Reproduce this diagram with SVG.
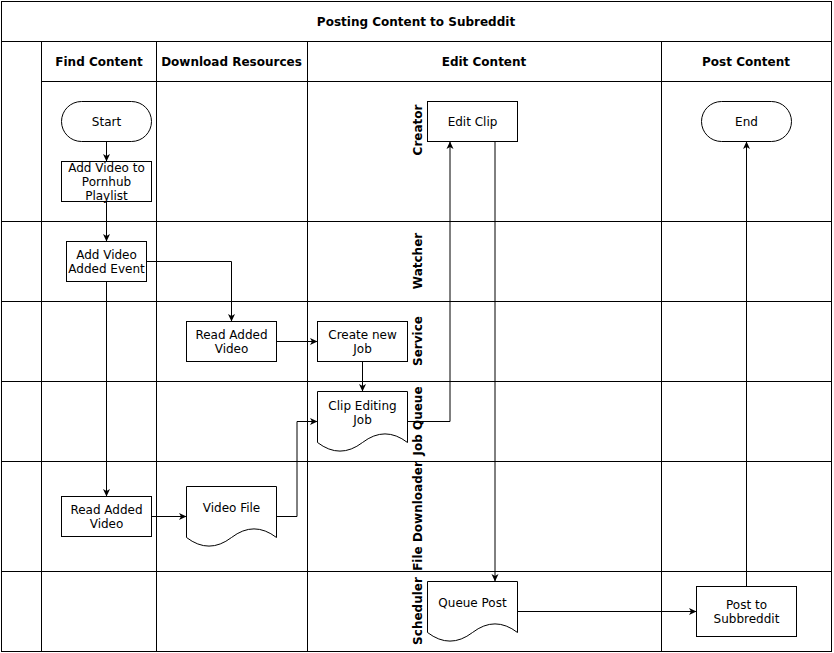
<svg xmlns="http://www.w3.org/2000/svg" width="834" height="653" viewBox="0 0 834 653">
<defs>
<style>
.grid{fill:none;stroke:#000;stroke-width:1}
.node{fill:#fff;stroke:#000;stroke-width:1}
.t{font-family:"DejaVu Sans","Liberation Sans",sans-serif;font-size:12px;fill:#000;text-anchor:middle}
.b{font-weight:bold}
.c{fill:none;stroke:#000;stroke-width:1}
</style>
<marker id="arr" markerUnits="userSpaceOnUse" viewBox="0 0 8 8" markerWidth="8" markerHeight="8" refX="7.5" refY="4" orient="auto">
<path d="M0,0.5 L7.5,4 L0,7.5 L2,4 z" fill="#000"/>
</marker>
</defs>
<rect width="834" height="653" fill="#fff"/>
<g id="pool">
<rect class="grid" x="1.5" y="1.5" width="830" height="650"/>
<line class="grid" x1="1.5" y1="41.5" x2="831.5" y2="41.5"/>
<line class="grid" x1="41.5" y1="81.5" x2="831.5" y2="81.5"/>
<line class="grid" x1="41.5" y1="41.5" x2="41.5" y2="651.5"/>
<line class="grid" x1="156.5" y1="41.5" x2="156.5" y2="651.5"/>
<line class="grid" x1="307.5" y1="41.5" x2="307.5" y2="651.5"/>
<line class="grid" x1="661.5" y1="41.5" x2="661.5" y2="651.5"/>
<line class="grid" x1="1.5" y1="221.5" x2="831.5" y2="221.5"/>
<line class="grid" x1="1.5" y1="301.5" x2="831.5" y2="301.5"/>
<line class="grid" x1="1.5" y1="381.5" x2="831.5" y2="381.5"/>
<line class="grid" x1="1.5" y1="461.5" x2="831.5" y2="461.5"/>
<line class="grid" x1="1.5" y1="571.5" x2="831.5" y2="571.5"/>
<text class="t b" x="416" y="25.5">Posting Content to Subreddit</text>
<text class="t b" x="99" y="65.5">Find Content</text>
<text class="t b" x="231.5" y="65.5">Download Resources</text>
<text class="t b" x="484" y="65.5">Edit Content</text>
<text class="t b" x="746" y="65.5">Post Content</text>
<text class="t b" transform="translate(417,130) rotate(-90)" y="4.5">Creator</text>
<text class="t b" transform="translate(417,261) rotate(-90)" y="4.5">Watcher</text>
<text class="t b" transform="translate(417,341) rotate(-90)" y="4.5">Service</text>
<text class="t b" transform="translate(417,421) rotate(-90)" y="4.5">Job Queue</text>
<text class="t b" transform="translate(417,516) rotate(-90)" y="4.5">File Downloader</text>
<text class="t b" transform="translate(417,611) rotate(-90)" y="4.5">Scheduler</text>
</g>
<g id="connectors">
<path class="c" d="M106.5,141.5 L106.5,161.5" marker-end="url(#arr)"/>
<path class="c" d="M106.5,201.5 L106.5,241.5" marker-end="url(#arr)"/>
<path class="c" d="M146.5,261.5 L231.5,261.5 L231.5,321.5" marker-end="url(#arr)"/>
<path class="c" d="M106.5,281.5 L106.5,496.5" marker-end="url(#arr)"/>
<path class="c" d="M276.5,341.5 L317.5,341.5" marker-end="url(#arr)"/>
<path class="c" d="M362.5,361.5 L362.5,391.5" marker-end="url(#arr)"/>
<path class="c" d="M151.5,516.5 L186.5,516.5" marker-end="url(#arr)"/>
<path class="c" d="M276.5,516.5 L297,516.5 L297,421.5 L317.5,421.5" marker-end="url(#arr)"/>
<path class="c" d="M407.5,421.5 L450,421.5 L450,141.5" marker-end="url(#arr)"/>
<path class="c" d="M495,141.5 L495,581.5" marker-end="url(#arr)"/>
<path class="c" d="M517.5,611.5 L696.5,611.5" marker-end="url(#arr)"/>
<path class="c" d="M746.5,586.5 L746.5,141.5" marker-end="url(#arr)"/>
</g>
<g id="start">
<rect class="node" x="61.5" y="101.5" width="90" height="40" rx="20" ry="20"/>
<text class="t" x="106.5" y="126">Start</text>
</g>
<g id="add-video-playlist">
<rect class="node" x="61.5" y="161.5" width="90" height="40"/>
<text class="t" x="106.5" y="172">Add Video to</text>
<text class="t" x="106.5" y="186">Pornhub</text>
<text class="t" x="106.5" y="200">Playlist</text>
</g>
<g id="add-video-added-event">
<rect class="node" x="66.5" y="241.5" width="80" height="40"/>
<text class="t" x="106.5" y="258.5">Add Video</text>
<text class="t" x="106.5" y="272.5">Added Event</text>
</g>
<g id="read-added-video-service">
<rect class="node" x="186.5" y="321.5" width="90" height="40"/>
<text class="t" x="231.5" y="339">Read Added</text>
<text class="t" x="231.5" y="353">Video</text>
</g>
<g id="create-new-job">
<rect class="node" x="317.5" y="321.5" width="90" height="40"/>
<text class="t" x="362.5" y="339">Create new</text>
<text class="t" x="362.5" y="353">Job</text>
</g>
<g id="clip-editing-job">
<path class="node" d="M317.5,391.5 L407.5,391.5 L407.5,442.5 Q385,425.3 362.5,442.5 Q340,459.7 317.5,442.5 Z"/>
<text class="t" x="362.5" y="410">Clip Editing</text>
<text class="t" x="362.5" y="424">Job</text>
</g>
<g id="edit-clip">
<rect class="node" x="427.5" y="101.5" width="90" height="40"/>
<text class="t" x="472.5" y="126">Edit Clip</text>
</g>
<g id="end">
<rect class="node" x="701.5" y="101.5" width="90" height="40" rx="20" ry="20"/>
<text class="t" x="746.5" y="126">End</text>
</g>
<g id="read-added-video-downloader">
<rect class="node" x="61.5" y="496.5" width="90" height="40"/>
<text class="t" x="106.5" y="514">Read Added</text>
<text class="t" x="106.5" y="528">Video</text>
</g>
<g id="video-file">
<path class="node" d="M186.5,486.5 L276.5,486.5 L276.5,537.5 Q254,520.3 231.5,537.5 Q209,554.7 186.5,537.5 Z"/>
<text class="t" x="231.5" y="512">Video File</text>
</g>
<g id="queue-post">
<path class="node" d="M427.5,581.5 L517.5,581.5 L517.5,632.5 Q495,615.3 472.5,632.5 Q450,649.7 427.5,632.5 Z"/>
<text class="t" x="472.5" y="607">Queue Post</text>
</g>
<g id="post-to-subbreddit">
<rect class="node" x="696.5" y="586.5" width="100" height="50"/>
<text class="t" x="746.5" y="609">Post to</text>
<text class="t" x="746.5" y="623">Subbreddit</text>
</g>
</svg>
